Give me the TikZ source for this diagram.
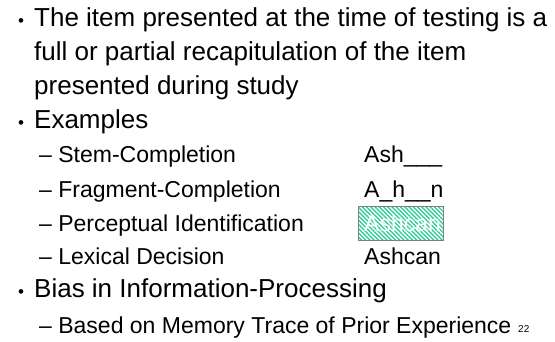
\documentclass[tikz,border=0pt]{standalone}
\usepackage{fontspec}
\setmainfont{Liberation Sans}
\usetikzlibrary{patterns.meta}
\definecolor{hatchteal}{RGB}{51,204,153}
\tikzset{
	bigtext/.style={anchor=base west, inner sep=0pt, font=\fontsize{26}{30}\selectfont},
	subtext/.style={anchor=base west, inner sep=0pt, font=\fontsize{23}{27}\selectfont},
	dot/.style={anchor=base, inner sep=0pt, font=\fontsize{17}{19}\selectfont},
}
\begin{document}
\begin{tikzpicture}[x=1pt, y=-1pt]
	\useasboundingbox (0,0) rectangle (555,341);
	
	\node [dot] (b1) at (21,26) {•};
	\node [bigtext] (t1) at (34,26) {The item presented at the time of testing is a};
	\node [bigtext] (t2) at (34,60) {full or partial recapitulation of the item};
	\node [bigtext] (t3) at (34,94) {presented during study};
	
	\node [dot] (b2) at (21,128) {•};
	\node [bigtext] (ex) at (34,128) {Examples};
	\node [subtext] (s1) at (39,162) {– Stem-Completion};
	\node [subtext] (s2) at (39,197) {– Fragment-Completion};
	\node [subtext] (s3) at (39,231) {– Perceptual Identification};
	\node [subtext] (s4) at (39,264) {– Lexical Decision};
	
	\node [subtext] (e1) at (364,162) {Ash\_\_\_};
	\node [subtext] (e2) at (364,197) {A\_h\_\_n};
	\draw [gray, pattern={Lines[angle=-45, distance=3pt, line width=1.4pt]}, pattern color=hatchteal] (358,206) rectangle (443,240);
	\node [subtext, white] (e3) at (364,231) {Ashcan};
	\node [subtext] (e4) at (364,264) {Ashcan};
	
	\node [dot] (b3) at (21,297) {•};
	\node [bigtext] (bias) at (34,297) {Bias in Information-Processing};
	\node [subtext] (s5) at (39,333) {– Based on Memory Trace of Prior Experience};
	\node [anchor=base west, inner sep=0pt, font=\fontsize{10}{12}\selectfont] (num) at (518,332) {22};
	
\end{tikzpicture}
\end{document}
